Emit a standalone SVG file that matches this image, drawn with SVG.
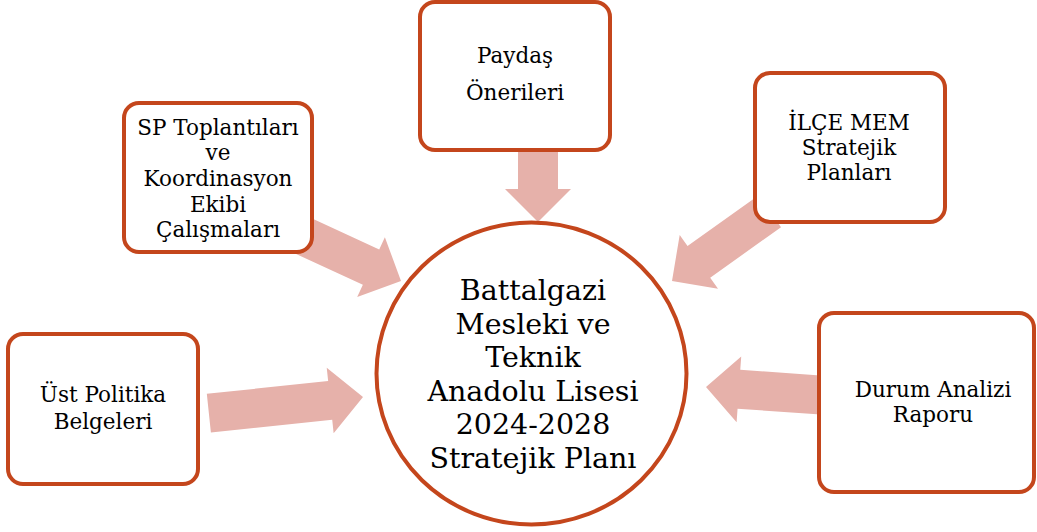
<svg xmlns="http://www.w3.org/2000/svg" width="1037" height="532" viewBox="0 0 1037 532">
<style>
.box{fill:#fff;stroke:#C4461C;stroke-width:4}
.arr{fill:#E6B1AA}
text{font-family:"DejaVu Serif","Liberation Serif",serif;fill:#000;text-anchor:middle}
.t{font-size:21.5px}
.c{font-size:28.5px}
</style>
<defs>
<path id="a77" d="M0,0 L-33,-33 L-33,-20 L-77,-20 L-77,20 L-33,20 L-33,33 Z"/>
<path id="a120" d="M0,0 L-33,-33 L-33,-19.5 L-120,-19.5 L-120,19.5 L-33,19.5 L-33,33 Z"/>
<path id="a155" d="M0,0 L-33,-33 L-33,-19.5 L-155,-19.5 L-155,19.5 L-33,19.5 L-33,33 Z"/>
</defs>
<g id="connectors">
<use href="#a120" class="arr" transform="translate(401,281) rotate(24.8)"/>
<use href="#a77" class="arr" transform="translate(538,222) rotate(90)"/>
<use href="#a120" class="arr" transform="translate(672,281) rotate(144.5)"/>
<use href="#a155" class="arr" transform="translate(363,397) rotate(-6)"/>
<use href="#a120" class="arr" transform="translate(706,387) rotate(184)"/>
</g>
<g id="center">
<ellipse cx="531.5" cy="373.5" rx="155" ry="151" class="box"/>
<text class="c"><tspan x="533" y="300">Battalgazi</tspan><tspan x="533" y="334">Mesleki ve</tspan><tspan x="533" y="367">Teknik</tspan><tspan x="533" y="401">Anadolu Lisesi</tspan><tspan x="533" y="434">2024-2028</tspan><tspan x="533" y="468">Stratejik Planı</tspan></text>
</g>
<g id="sp">
<rect x="124" y="103" width="188" height="149" rx="15" class="box"/>
<text class="t"><tspan x="218" y="135">SP Toplantıları</tspan><tspan x="218" y="160">ve</tspan><tspan x="218" y="186">Koordinasyon</tspan><tspan x="218" y="212">Ekibi</tspan><tspan x="218" y="237">Çalışmaları</tspan></text>
</g>
<g id="paydas">
<rect x="420" y="2" width="190" height="148" rx="15" class="box"/>
<text class="t"><tspan x="515" y="63">Paydaş</tspan><tspan x="515" y="100">Önerileri</tspan></text>
</g>
<g id="ilce">
<rect x="755" y="73" width="190" height="149" rx="15" class="box"/>
<text class="t"><tspan x="849" y="130">İLÇE MEM</tspan><tspan x="849" y="155">Stratejik</tspan><tspan x="849" y="180">Planları</tspan></text>
</g>
<g id="ust">
<rect x="8" y="334" width="190" height="150" rx="15" class="box"/>
<text class="t"><tspan x="103" y="402">Üst Politika</tspan><tspan x="103" y="429">Belgeleri</tspan></text>
</g>
<g id="durum">
<rect x="819" y="313" width="215" height="179" rx="15" class="box"/>
<text class="t"><tspan x="933" y="397">Durum Analizi</tspan><tspan x="933" y="422">Raporu</tspan></text>
</g>
</svg>
